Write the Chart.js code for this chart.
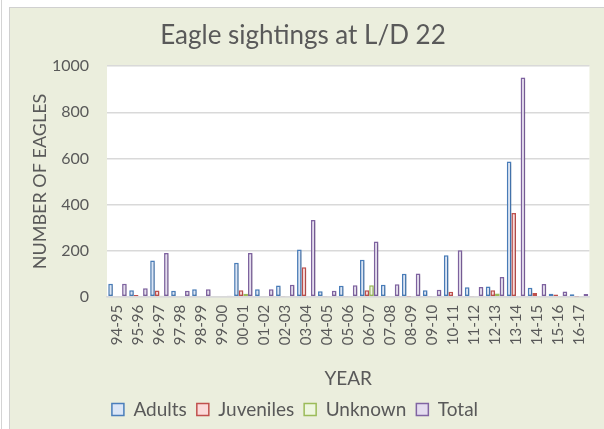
<!DOCTYPE html>
<html>
<head>
<meta charset="utf-8">
<script src="https://cdn.jsdelivr.net/npm/chart.js@4/dist/chart.umd.min.js"></script>
<style>
  html, body { margin: 0; padding: 0; background: #ffffff; }
  body { width: 604px; height: 429px; position: relative; overflow: hidden; }
  .edge { position: absolute; left: 1px; top: 0; width: 1px; height: 429px; background: #d4d4d4; }
  .frame {
    position: absolute; left: 9px; top: 7px; width: 600px; height: 430px;
    background: #ebeedd; border: 1px solid #d0d0d0;
  }
  .frame canvas { position: absolute; left: 0; top: 0; }
</style>
</head>
<body>
<div class="edge"></div>
<div class="frame">
  <canvas id="barChart" width="595" height="421" style="width:595px;height:421px"></canvas>
</div>
<script>
var years = ["94-95", "95-96", "96-97", "97-98", "98-99", "99-00", "00-01", "01-02",
  "02-03", "03-04", "04-05", "05-06", "06-07", "07-08", "08-09", "09-10", "10-11",
  "11-12", "12-13", "13-14", "14-15", "15-16", "16-17"];
var adults    = [57, 29, 158, 26, 33, 4, 148, 33, 49, 205, 24, 48, 161, 52, 100, 29, 180, 41, 45, 587, 39, 13, 11];
var juveniles = [0, 8, 27, 0, 0, 0, 29, 0, 3, 128, 2, 2, 29, 3, 1, 2, 22, 2, 28, 364, 17, 10, 1];
var unknown   = [0, 0, 5, 0, 0, 0, 13, 0, 0, 0, 0, 0, 50, 0, 0, 0, 0, 0, 14, 0, 0, 0, 0];
var total     = [57, 37, 190, 26, 33, 5, 190, 33, 52, 333, 26, 50, 240, 55, 101, 31, 202, 43, 86, 951, 56, 23, 12];
var yTicks    = [0, 200, 400, 600, 800, 1000];

document.addEventListener("DOMContentLoaded", function () {
  var ctx = document.getElementById("barChart").getContext("2d");
  var font = "Lato, 'Open Sans', sans-serif";
  var grey = "#595959";

  // white plot area like the Excel original
  var plotBg = {
    id: "plotBg",
    beforeDraw: function (chart) {
      var a = chart.chartArea;
      var c = chart.ctx;
      c.save();
      c.fillStyle = "#ffffff";
      c.fillRect(a.left, a.top, a.right - a.left, a.bottom - a.top);
      c.restore();
    }
  };

  // soft shadow behind the bars
  var barShadow = {
    id: "barShadow",
    beforeDatasetsDraw: function (chart) {
      var c = chart.ctx;
      c.save();
      c.shadowColor = "rgba(0,0,0,0.22)";
      c.shadowBlur = 3;
      c.shadowOffsetX = 1;
      c.shadowOffsetY = 1;
    },
    afterDatasetsDraw: function (chart) {
      chart.ctx.restore();
    }
  };

  // title and legend sit a bit left of the plot centre in the original
  var nudge = {
    id: "nudge",
    afterLayout: function (chart) {
      chart.titleBlock.left -= 13;
      chart.titleBlock.right -= 13;
      chart.legend.left -= 21;
      chart.legend.right -= 21;
    }
  };

  function series(label, data, fill, line) {
    return {
      label: label,
      data: data,
      backgroundColor: fill,
      borderColor: line,
      borderWidth: 1.5,
      borderSkipped: false,
      barPercentage: 1.0,
      categoryPercentage: 0.88
    };
  }

  var barChart = new Chart(ctx, {
    type: "bar",
    data: {
      labels: years,
      datasets: [
        series("Adults", adults, "#dbe6f7", "#4a7ebb"),
        series("Juveniles", juveniles, "#fbdada", "#c0504d"),
        series("Unknown", unknown, "#eef6df", "#9bbb59"),
        series("Total", total, "#e4dcef", "#8064a2")
      ]
    },
    options: {
      responsive: false,
      animation: false,
      layout: { padding: { left: 19, right: 2, top: 6, bottom: 0 } },
      plugins: {
        title: {
          display: true,
          text: "Eagle sightings at L/D 22",
          color: grey,
          font: { family: font, size: 26, weight: "normal" },
          padding: { top: 6, bottom: 15 }
        },
        legend: {
          position: "bottom",
          labels: {
            color: grey,
            font: { family: font, size: 19 },
            boxWidth: 12,
            boxHeight: 12,
            padding: 10
          }
        },
        tooltip: { enabled: false }
      },
      scales: {
        x: {
          grid: { display: false, drawTicks: false },
          border: { display: true, color: "#d9d9d9", width: 1.5 },
          ticks: {
            color: grey,
            font: { family: font, size: 15 },
            minRotation: 90,
            maxRotation: 90,
            autoSkip: false,
            padding: 8
          },
          title: {
            display: true,
            text: "YEAR",
            color: grey,
            font: { family: font, size: 19 },
            padding: { top: 14, bottom: 0 }
          }
        },
        y: {
          min: 0,
          max: 1000,
          afterBuildTicks: function (axis) {
            axis.ticks = yTicks.map(function (v) { return { value: v }; });
          },
          afterFit: function (axis) { axis.width = 78; },
          grid: { color: "#d9d9d9", lineWidth: 1.5, drawTicks: false },
          border: { display: false },
          ticks: {
            color: grey,
            font: { family: font, size: 16 },
            padding: 18,
            callback: function (v) { return String(v); }
          },
          title: {
            display: true,
            text: "NUMBER OF EAGLES",
            color: grey,
            font: { family: font, size: 18 },
            padding: { top: 0, bottom: 2 }
          }
        }
      }
    },
    plugins: [plotBg, barShadow, nudge]
  });
});
</script>
</body>
</html>
